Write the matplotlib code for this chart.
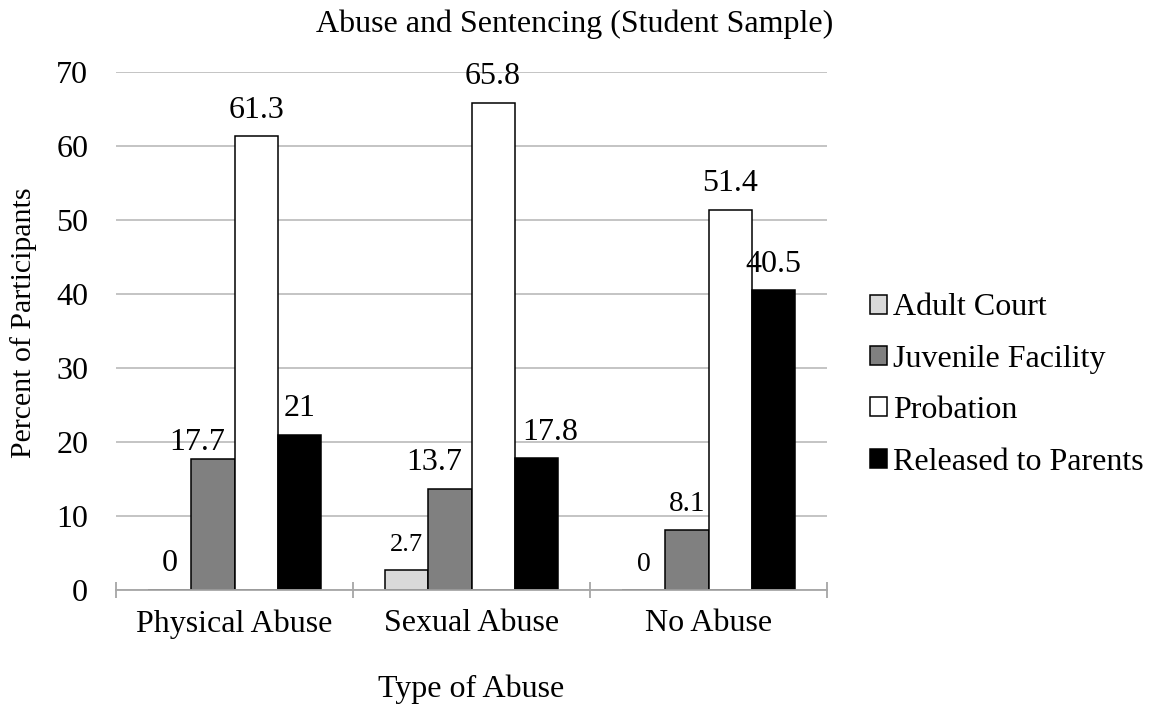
import numpy as np
import matplotlib.pyplot as plt

# data
categories = ['Physical Abuse', 'Sexual Abuse', 'No Abuse']
series_names = ['Adult Court', 'Juvenile Facility', 'Probation', 'Released to Parents']
adult_court = [0, 2.7, 0]
juvenile = [17.7, 13.7, 8.1]
probation = [61.3, 65.8, 51.4]
released = [21, 17.8, 40.5]
values = [adult_court, juvenile, probation, released]
colors = ['#d9d9d9', '#808080', '#ffffff', '#000000']

# label sizes in the picture are not all the same
label_sizes = [[23, 19, 20], [23, 23, 21], [23, 23, 23], [23, 23, 23]]
# some labels are nudged sideways / down to stay off the next bar (points)
label_nudge = {(1, 0): (-11.5, -7), (1, 1): (-11, 0), (3, 1): (10, 0)}

plt.rcParams['font.family'] = ['Liberation Serif', 'DejaVu Serif']
fs = 23

fig = plt.figure(figsize=(11.5, 7.12), dpi=100)
ax = fig.add_axes([116 / 1150, 1 - 590 / 712, (827 - 116) / 1150, (590 - 72) / 712])

x = np.arange(len(categories))
w = 0.182
for k in range(4):
    pos = x + (k - 1.5) * w
    ax.bar(pos, values[k], width=w, color=colors[k], edgecolor='black', linewidth=1.1, zorder=3,
           label=series_names[k])
    for j, (p, v) in enumerate(zip(pos, values[k])):
        dx, dy = label_nudge.get((k, j), (0, 0))
        ax.annotate('%g' % v, (p, v), xytext=(dx, 13.5 + dy), textcoords='offset points',
                    ha='center', va='baseline', fontsize=label_sizes[k][j], zorder=5)

ax.set_xlim(-0.5, 2.5)
ax.set_ylim(0, 70)
ax.set_yticks(range(0, 71, 10))
ax.yaxis.grid(True, color='#bfbfbf', linewidth=1.3, zorder=0)
ax.tick_params(axis='y', length=0, labelsize=fs, pad=20)
ax.set_xticks([-0.5, 0.5, 1.5, 2.5])
ax.set_xticklabels([])
ax.set_xticks(x, minor=True)
ax.set_xticklabels(categories, minor=True)
ax.tick_params(axis='x', which='major', direction='inout', length=12, color='#a6a6a6', width=1.3)
ax.tick_params(axis='x', which='minor', length=0, labelsize=fs, pad=14)
for s in ['top', 'right', 'left']:
    ax.spines[s].set_visible(False)
ax.spines['bottom'].set_color('#a6a6a6')
ax.spines['bottom'].set_linewidth(1.3)
ax.spines['bottom'].set_zorder(4)

fig.text(24 / 1150, 1 - 323 / 712, 'Percent of Participants', rotation=90, ha='center', va='center', fontsize=21.5)
fig.text(471 / 1150, 1 - 689 / 712, 'Type of Abuse', ha='center', va='center', fontsize=fs)
fig.text(0.5, 1 - 32 / 712, 'Abuse and Sentencing (Student Sample)', ha='center', va='baseline', fontsize=fs)

ax.legend(loc='center left', bbox_to_anchor=(870 / 1150, 1 - 385 / 712), bbox_transform=fig.transFigure,
          frameon=False, fontsize=fs, borderpad=0, borderaxespad=0,
          handlelength=0.53, handleheight=0.53, handletextpad=0.2, labelspacing=0.7)

plt.savefig('out.png')
